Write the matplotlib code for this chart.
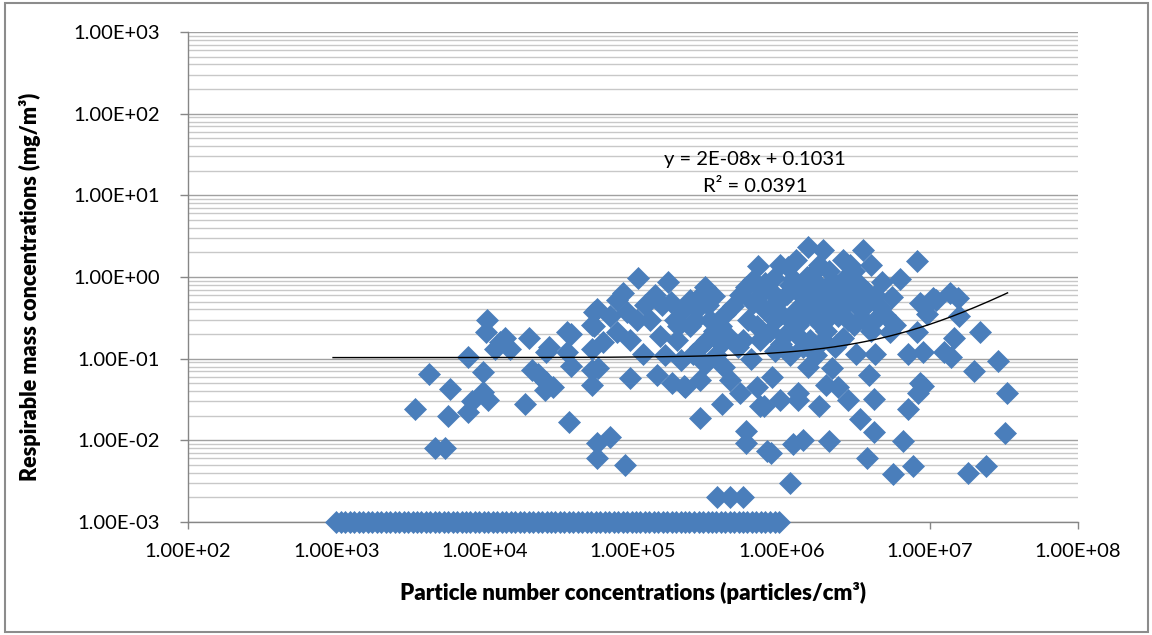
import matplotlib
matplotlib.use("Agg")
import matplotlib.pyplot as plt
import numpy as np
from matplotlib.patches import Rectangle
from matplotlib.ticker import LogLocator, FixedLocator, FuncFormatter, NullFormatter

plt.rcParams['font.family'] = ['Lato', 'DejaVu Sans']

# ---------------- data ----------------
# Left cluster (1e3 - 1e5 particles/cm3)
left_pnc = [3.4e3, 4.2e3, 4.6e3, 5.4e3, 5.8e3, 5.7e3, 7.7e3, 8.2e3, 7.7e3, 1.04e4,
            1.02e4, 9.8e3, 9.8e3, 1.05e4, 1.17e4, 1.27e4, 1.37e4, 1.48e4, 2.0e4, 1.87e4,
            2.1e4, 2.3e4, 2.6e4, 2.9e4, 2.55e4, 2.7e4, 2.6e4, 3.6e4, 3.8e4, 3.6e4,
            3.8e4, 3.7e4, 5.3e4, 5.3e4, 5.5e4, 5.3e4, 5.3e4, 5.7e4, 5.7e4, 7.0e4,
            8.8e4, 5.8e4]
left_rmc = [0.024, 0.065, 0.008, 0.008, 0.043, 0.020, 0.106, 0.030, 0.022, 0.30,
            0.21, 0.068, 0.039, 0.031, 0.13, 0.16, 0.18, 0.13, 0.18, 0.028,
            0.073, 0.064, 0.052, 0.045, 0.041, 0.14, 0.12, 0.21, 0.20, 0.12,
            0.082, 0.017, 0.073, 0.047, 0.37, 0.26, 0.13, 0.0093, 0.006, 0.011,
            0.005, 0.077]

# Middle cluster (5e4 - 8e5)
mid_pnc = [1.08e5, 1.73e5, 1.57e5, 8.6e4, 7.8e4, 5.7e4, 7.0e4, 9.1e4, 1.06e5, 5.5e4,
           7.8e4, 9.6e4, 6.3e4, 1.16e5, 9.6e4, 1.46e5, 1.84e5, 2.24e5, 2.83e5, 1.98e5,
           2.43e5, 2.7e5, 2.43e5, 3.05e5, 3.5e5, 2.83e5, 2.55e5, 3.15e5, 3.9e5, 4.5e5,
           5.1e5, 4.7e5, 5.8e5, 6.4e5, 7.0e5, 6.4e5, 6.9e5, 5.5e5, 6.2e5, 4.1e5,
           4.5e5, 5.3e5, 6.9e5, 4.0e5, 7.2e5, 2.83e5, 5.8e5, 5.8e5, 8.0e5, 3.7e5,
           4.5e5, 5.5e5, 2.2e5, 1.3e5, 1.53e5, 1.93e5, 2.2e5, 3.3e5, 3.6e5, 3.05e5,
           2.1e5, 1.65e5, 3.9e5, 1.2e5, 1.4e5, 1.8e5, 2.0e5, 2.6e5, 3.2e5, 3.5e5,
           4.2e5, 2.9e5, 6.0e5, 5.3e5]
mid_rmc = [0.98, 0.88, 0.46, 0.64, 0.52, 0.40, 0.33, 0.37, 0.30, 0.25,
           0.21, 0.17, 0.16, 0.114, 0.058, 0.063, 0.051, 0.045, 0.055, 0.17,
           0.25, 0.40, 0.52, 0.75, 0.58, 0.14, 0.115, 0.17, 0.25, 0.18,
           0.14, 0.44, 0.75, 0.92, 1.35, 0.48, 0.25, 0.17, 0.10, 0.080,
           0.055, 0.038, 0.045, 0.028, 0.026, 0.019, 0.013, 0.0093, 0.0073, 0.002,
           0.002, 0.002, 0.046, 0.30, 0.19, 0.30, 0.40, 0.30, 0.11, 0.085,
           0.097, 0.11, 0.15, 0.45, 0.60, 0.50, 0.25, 0.30, 0.45, 0.22,
           0.35, 0.62, 0.30, 0.60]

# Right cluster (7e5 - 3.5e7)
high_pnc = [1.52e6, 1.91e6, 3.56e6, 8.2e6, 1.11e6, 2.6e6, 3.1e6, 4.8e6, 6.3e6, 5.6e6,
            4.7e6, 8.6e6, 1.06e7, 9.6e6, 8.2e6, 8.9e5, 1.37e7, 1.1e7, 1.55e7, 1.58e7,
            2.2e7, 1.45e7, 1.25e7, 1.4e7, 9.0e6, 2.9e7, 2.0e7, 3.3e7, 9.0e6, 8.6e6,
            8.3e6, 3.2e7, 2.4e7, 1.8e7, 7.1e6, 4.3e6, 3.2e6, 7.1e6, 3.9e6, 4.2e6,
            2.8e6, 3.4e6, 4.2e6, 6.6e6, 2.1e6, 1.4e6, 1.2e6, 8.5e5, 3.8e6, 7.7e6,
            5.7e6, 1.15e6, 2.2e6, 1.52e6, 8.7e5, 2.0e6, 2.4e6, 1.3e6, 9.8e5, 1.3e6,
            1.8e6, 7.6e5]
high_rmc = [2.35, 2.15, 2.15, 1.56, 1.33, 1.62, 1.17, 0.88, 0.95, 0.57,
            0.42, 0.48, 0.55, 0.35, 0.21, 0.98, 0.63, 0.52, 0.55, 0.33,
            0.21, 0.18, 0.12, 0.105, 0.12, 0.094, 0.070, 0.038, 0.046, 0.050,
            0.038, 0.0122, 0.0049, 0.0040, 0.0245, 0.113, 0.113, 0.113, 0.063, 0.032,
            0.031, 0.018, 0.0125, 0.0097, 0.0097, 0.0101, 0.009, 0.0069, 0.0061, 0.0049,
            0.0039, 0.0030, 0.077, 0.078, 0.060, 0.048, 0.045, 0.038, 0.031, 0.031,
            0.026, 0.026]

# Dense core of the right cluster
core_pnc = [8.4e5, 9.8e5, 1.15e6, 1.27e6, 1.35e6, 1.5e6, 1.55e6, 1.7e6, 1.8e6, 2.0e6,
            2.1e6, 2.3e6, 2.4e6, 2.6e6, 2.9e6, 3.1e6, 3.4e6, 3.7e6, 4.0e6, 4.3e6,
            5.0e6, 5.4e6, 9.0e5, 1.05e6, 1.3e6, 1.55e6, 2.0e6, 2.3e6, 2.6e6, 7.7e5,
            7.2e5, 9.0e5, 1.15e6, 1.7e6, 9.8e5, 1.25e6, 1.8e6, 2.9e6, 4.0e6, 2.4e6,
            1.7e6, 2.1e6, 3.4e6, 1.45e6, 1.15e6, 8.4e5, 7.2e5, 4.3e6, 5.8e6, 7.8e5,
            8.8e5, 1.0e6, 1.1e6, 1.2e6, 1.4e6, 1.45e6, 1.6e6, 1.65e6, 1.75e6, 1.9e6,
            1.95e6, 2.2e6, 2.2e6, 2.5e6, 2.7e6, 2.8e6, 3.0e6, 3.2e6, 3.6e6, 3.8e6,
            1.0e6, 1.25e6, 1.9e6, 1.4e6]
core_rmc = [0.70, 0.52, 0.80, 0.40, 0.60, 1.0, 0.52, 0.30, 0.80, 0.46,
            1.2, 0.70, 0.33, 0.92, 0.52, 0.26, 0.80, 0.46, 0.22, 0.60,
            0.34, 0.21, 0.30, 0.19, 0.26, 0.17, 0.22, 0.14, 0.18, 0.40,
            0.17, 0.125, 0.11, 0.11, 1.4, 1.6, 1.4, 1.4, 1.4, 0.52,
            0.70, 0.33, 0.40, 0.33, 0.30, 0.22, 0.60, 0.30, 0.26, 0.85,
            0.45, 0.35, 0.62, 0.95, 0.45, 0.78, 0.38, 1.15, 0.55, 0.62,
            0.28, 0.55, 0.90, 0.42, 0.65, 0.30, 0.95, 0.60, 0.30, 0.65,
            0.15, 0.20, 0.17, 0.14]

# Samples at the detection limit (plotted at 1.00E-03)
bdl_pnc = [1.0e3, 1.07e3, 1.15e3, 1.23e3, 1.32e3, 1.42e3, 1.52e3, 1.63e3, 1.75e3, 1.88e3,
           2.0e3, 2.15e3, 2.3e3, 2.47e3, 2.65e3, 2.85e3, 3.05e3, 3.27e3, 3.5e3, 3.75e3,
           4.0e3, 4.3e3, 4.6e3, 4.95e3, 5.3e3, 5.7e3, 6.1e3, 6.5e3, 7.0e3, 7.5e3,
           8.0e3, 8.6e3, 9.2e3, 9.9e3, 1.06e4, 1.14e4, 1.22e4, 1.31e4, 1.4e4, 1.5e4,
           1.61e4, 1.73e4, 1.85e4, 1.98e4, 2.12e4, 2.28e4, 2.44e4, 2.62e4, 2.8e4, 3.0e4,
           3.22e4, 3.45e4, 3.7e4, 3.97e4, 4.25e4, 4.55e4, 4.88e4, 5.23e4, 5.6e4, 6.0e4,
           6.45e4, 6.9e4, 7.4e4, 7.9e4, 8.5e4, 9.1e4, 9.8e4, 1.05e5, 1.12e5, 1.2e5,
           1.29e5, 1.38e5, 1.48e5, 1.59e5, 1.7e5, 1.82e5, 1.95e5, 2.1e5, 2.25e5, 2.4e5,
           2.58e5, 2.77e5, 2.97e5, 3.18e5, 3.4e5, 3.65e5, 3.9e5, 4.2e5, 4.5e5, 4.8e5,
           5.15e5, 5.5e5, 5.9e5, 6.35e5, 6.8e5, 7.3e5, 7.8e5, 8.4e5, 9.0e5, 9.7e5]
bdl_rmc = [1.0e-3] * len(bdl_pnc)

# Linear trendline (Excel)
trend_slope = 1.6e-8
trend_intercept = 0.1031
trend_x_range = [9.5e2, 3.35e7]
eq_text = "y = 2E-08x + 0.1031"
r2_text = "R\u00b2 = 0.0391"

x_ticks = [1e2, 1e3, 1e4, 1e5, 1e6, 1e7, 1e8]
y_ticks = [1e-3, 1e-2, 1e-1, 1e0, 1e1, 1e2, 1e3]

xlabel = "Particle number concentrations (particles/cm\u00b3)"
ylabel = "Respirable mass concentrations (mg/m\u00b3)"

# ---------------- figure ----------------
W, H = 1152, 635
fig = plt.figure(figsize=(W / 100, H / 100), dpi=100)
left, right, top, bottom = 188, 1078, 32, 522
ax = fig.add_axes([left / W, 1 - bottom / H, (right - left) / W, (bottom - top) / H])

ax.set_xscale('log')
ax.set_yscale('log')
ax.set_xlim(x_ticks[0], x_ticks[-1])
ax.set_ylim(y_ticks[0], y_ticks[-1])

blue = '#4A7EBB'
all_x = left_pnc + mid_pnc + core_pnc + high_pnc + bdl_pnc
all_y = left_rmc + mid_rmc + core_rmc + high_rmc + bdl_rmc
ax.plot(all_x, all_y, linestyle='none', marker='D', markersize=11,
        color=blue, markeredgecolor=blue, markeredgewidth=0.5,
        clip_on=False, zorder=3)

tx = np.geomspace(trend_x_range[0], trend_x_range[1], 400)
ax.plot(tx, trend_slope * tx + trend_intercept, color='black', lw=1.0, zorder=4)

fmt = FuncFormatter(lambda v, p: f"{v:.2E}")
ax.xaxis.set_major_locator(FixedLocator(x_ticks))
ax.yaxis.set_major_locator(FixedLocator(y_ticks))
ax.xaxis.set_major_formatter(fmt)
ax.yaxis.set_major_formatter(fmt)
ax.xaxis.set_minor_locator(FixedLocator([]))
ax.yaxis.set_minor_locator(LogLocator(base=10, subs=np.arange(2, 10), numticks=20))
ax.yaxis.set_minor_formatter(NullFormatter())

ax.grid(True, axis='y', which='major', color='#a0a0a0', lw=1.0)
ax.grid(True, axis='y', which='minor', color='#c8c8c8', lw=1.0)
ax.grid(False, axis='x')
ax.set_axisbelow(True)

for s in ['top', 'right']:
    ax.spines[s].set_visible(False)
for s in ['left', 'bottom']:
    ax.spines[s].set_color('#868686')
    ax.spines[s].set_linewidth(1.0)

ax.tick_params(axis='y', which='major', direction='out', length=6, width=1,
               color='#868686', labelsize=14.5, pad=14)
ax.tick_params(axis='y', which='minor', length=0)
ax.tick_params(axis='x', which='major', direction='out', length=5, width=1,
               color='#868686', labelsize=14.5, pad=10)

fig.text(755 / W, 1 - 160 / H, eq_text, ha='center', va='center', fontsize=14.5)
fig.text(755 / W, 1 - 187 / H, r2_text, ha='center', va='center', fontsize=14.5)

fig.text(30 / W, 1 - 287 / H, ylabel, rotation=90, ha='center', va='center',
         fontsize=15.5, fontweight='heavy')
fig.text(633 / W, 1 - 593 / H, xlabel, ha='center', va='center',
         fontsize=16, fontweight='heavy')

fig.patches.append(Rectangle((5 / W, 1 - 632 / H), (1148 - 5) / W, (632 - 3) / H,
                             transform=fig.transFigure, fill=False,
                             edgecolor='#8c8c8c', lw=1.5))

fig.savefig('out.png', dpi=100)
